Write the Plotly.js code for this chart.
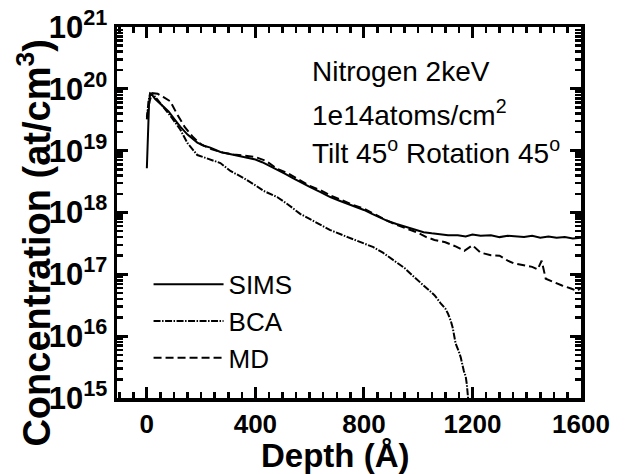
<!DOCTYPE html>
<html>
<head>
<meta charset="utf-8">
<script src="https://cdn.plot.ly/plotly-3.0.1.min.js"></script>
<style>html,body{margin:0;padding:0;background:#fff;}#chart{width:626px;height:474px;}</style>
</head>
<body>
<div id="chart"></div>
<script>
// ---- data (depth in Å, concentration in at/cm^3) ----
const simsDepth = [0, 4, 8, 12, 20, 30, 45, 60, 80, 100, 123, 150, 186, 210, 234, 271, 300, 330, 356, 380, 400, 425, 450, 480, 510, 540, 570, 602, 640, 676, 710, 740, 776, 800, 830, 861, 890, 920, 950, 972, 1000, 1020, 1050, 1080, 1110, 1146, 1175, 1200, 1230, 1268, 1300, 1330, 1360, 1390, 1420, 1450, 1480, 1510, 1540, 1570, 1600];
const simsConc = [5.2e18, 2.0e19, 5.6e19, 8.1e19, 7.9e19, 6.9e19, 6.0e19, 5.2e19, 4.3e19, 3.3e19, 2.45e19, 1.82e19, 1.35e19, 1.2e19, 1.12e19, 9.5e18, 8.9e18, 8.5e18, 7.9e18, 7.6e18, 7.2e18, 6.5e18, 5.75e18, 4.9e18, 4.2e18, 3.55e18, 3.0e18, 2.57e18, 2.14e18, 1.78e18, 1.55e18, 1.38e18, 1.23e18, 1.10e18, 9.5e17, 8.1e17, 7.2e17, 6.5e17, 5.9e17, 5.6e17, 5.1e17, 4.8e17, 4.6e17, 4.4e17, 4.3e17, 4.3e17, 4.1e17, 4.4e17, 4.2e17, 4.3e17, 4.0e17, 4.2e17, 4.1e17, 4.0e17, 4.2e17, 3.9e17, 4.1e17, 3.9e17, 4.0e17, 3.8e17, 3.9e17];

const bcaDepth = [0, 6, 12, 25, 40, 60, 90, 123, 150, 186, 230, 271, 308, 357, 400, 430, 480, 520, 565, 620, 676, 740, 800, 835, 870, 909, 950, 980, 1009, 1040, 1060, 1083, 1100, 1109, 1120, 1127, 1138, 1150, 1157, 1168, 1175, 1179, 1182, 1186];
const bcaConc = [3.2e19, 6.3e19, 8.5e19, 7.9e19, 6.6e19, 5.2e19, 3.5e19, 2.2e19, 1.32e19, 8.5e18, 7.2e18, 6.3e18, 4.7e18, 3.6e18, 2.75e18, 2.24e18, 1.78e18, 1.35e18, 9.5e17, 7.1e17, 5.2e17, 4.0e17, 3.2e17, 2.75e17, 2.24e17, 1.7e17, 1.26e17, 9.5e16, 7.4e16, 5.6e16, 4.6e16, 3.4e16, 2.8e16, 2.35e16, 1.78e16, 1.38e16, 7.6e15, 5.6e15, 4.5e15, 2.75e15, 2.24e15, 1.7e15, 1.17e15, 7.9e14];

const mdDepth = [0, 10, 20, 40, 60, 86, 110, 140, 170, 200, 240, 280, 320, 360, 400, 440, 480, 520, 560, 600, 640, 680, 720, 760, 800, 840, 880, 920, 960, 1000, 1030, 1060, 1100, 1140, 1170, 1200, 1230, 1268, 1300, 1330, 1353, 1390, 1420, 1440, 1455, 1470, 1500, 1530, 1563, 1585, 1600];
const mdConc = [3.5e19, 6.3e19, 8.5e19, 8.3e19, 7.4e19, 6.3e19, 4.0e19, 2.4e19, 1.66e19, 1.26e19, 1.05e19, 9.3e18, 8.7e18, 8.3e18, 7.9e18, 6.8e18, 5.1e18, 4.3e18, 3.4e18, 2.7e18, 2.3e18, 1.86e18, 1.58e18, 1.32e18, 1.15e18, 9.3e17, 7.6e17, 6.3e17, 5.4e17, 4.7e17, 4.0e17, 3.6e17, 3.3e17, 2.8e17, 2.4e17, 2.95e17, 2.24e17, 2.04e17, 2.0e17, 1.66e17, 1.5e17, 1.4e17, 1.32e17, 1.2e17, 1.66e17, 8.5e16, 7.4e16, 6.6e16, 5.9e16, 5.4e16, 6.0e16];

const seriesNames = ['SIMS', 'BCA', 'MD'];
const xTickVals = [0, 400, 800, 1200, 1600];
const yTickExps = [15, 16, 17, 18, 19, 20, 21];
const infoLines = ['Nitrogen 2keV', '1e14atoms/cm<sup>2</sup>', 'Tilt 45<sup>o</sup> Rotation 45<sup>o</sup>'];
const xTitle = 'Depth (Å)';
const yTitle = 'Concentration (at/cm<sup>3</sup>)';

const FONT = 'Liberation Sans, Arial, Helvetica, sans-serif';

const traces = [
  {x: simsDepth, y: simsConc, name: seriesNames[0], mode: 'lines', line: {color: '#000', width: 2, dash: 'solid'}},
  {x: bcaDepth, y: bcaConc, name: seriesNames[1], mode: 'lines', line: {color: '#000', width: 2, dash: '7px,1.5px,1.5px,1.5px'}},
  {x: mdDepth, y: mdConc, name: seriesNames[2], mode: 'lines', line: {color: '#000', width: 2, dash: '8px,4px'}}
];

const infoY = [0.881, 0.768, 0.666];
const annotations = infoLines.map((t, i) => ({
  text: t, xref: 'paper', yref: 'paper', x: 0.416, y: infoY[i],
  xanchor: 'left', yanchor: 'middle', showarrow: false,
  font: {family: FONT, size: 28, color: '#000'}
}));
// axis titles placed as annotations to match the reference's off-centre positions
annotations.push({
  text: xTitle, xref: 'paper', yref: 'paper', x: 0.47, y: -0.155,
  xanchor: 'center', yanchor: 'middle', showarrow: false,
  font: {family: FONT, size: 33, color: '#000', weight: 'bold'}
});
annotations.push({
  text: yTitle, xref: 'paper', yref: 'paper', x: -0.178, y: 0.42,
  xanchor: 'center', yanchor: 'middle', showarrow: false, textangle: -90,
  font: {family: FONT, size: 38, color: '#000', weight: 'bold'}
});

const layout = {
  width: 626, height: 474,
  margin: {l: 117, r: 45, t: 27, b: 76},
  paper_bgcolor: '#fff', plot_bgcolor: '#fff',
  showlegend: true,
  legend: {
    x: 0.068, y: 0.37, xanchor: 'left', yanchor: 'top',
    bgcolor: 'rgba(0,0,0,0)', borderwidth: 0,
    font: {family: FONT, size: 26, color: '#000'},
    itemwidth: 70, tracegroupgap: 0
  },
  xaxis: {
    range: [-110, xTickVals[xTickVals.length - 1]],
    tickmode: 'array', tickvals: xTickVals, ticktext: xTickVals.map(String),
    ticks: 'inside', ticklen: 11, tickwidth: 3, tickcolor: '#000',
    minor: {tickmode: 'linear', dtick: 50, tick0: 0, ticks: 'inside', ticklen: 6, tickwidth: 2.5, tickcolor: '#000', showgrid: false},
    showline: true, linewidth: 3.5, linecolor: '#000', mirror: 'allticks',
    showgrid: false, zeroline: false,
    tickfont: {family: FONT, size: 26, color: '#000', weight: 'bold'}
  },
  yaxis: {
    type: 'log', range: [yTickExps[0], yTickExps[yTickExps.length - 1]],
    tickmode: 'array',
    tickvals: yTickExps.map(e => Math.pow(10, e)),
    ticktext: yTickExps.map(e => '10<sup>' + e + '</sup>'),
    ticks: 'inside', ticklen: 11, tickwidth: 3, tickcolor: '#000',
    minor: {tickmode: 'linear', dtick: 'D1', tick0: 0, ticks: 'inside', ticklen: 6, tickwidth: 2.5, tickcolor: '#000', showgrid: false},
    showline: true, linewidth: 3.5, linecolor: '#000', mirror: 'allticks',
    showgrid: false, zeroline: false,
    tickfont: {family: FONT, size: 31, color: '#000', weight: 'bold'}
  },
  annotations: annotations
};

Plotly.newPlot('chart', traces, layout, {staticPlot: true, displayModeBar: false});
</script>
</body>
</html>
